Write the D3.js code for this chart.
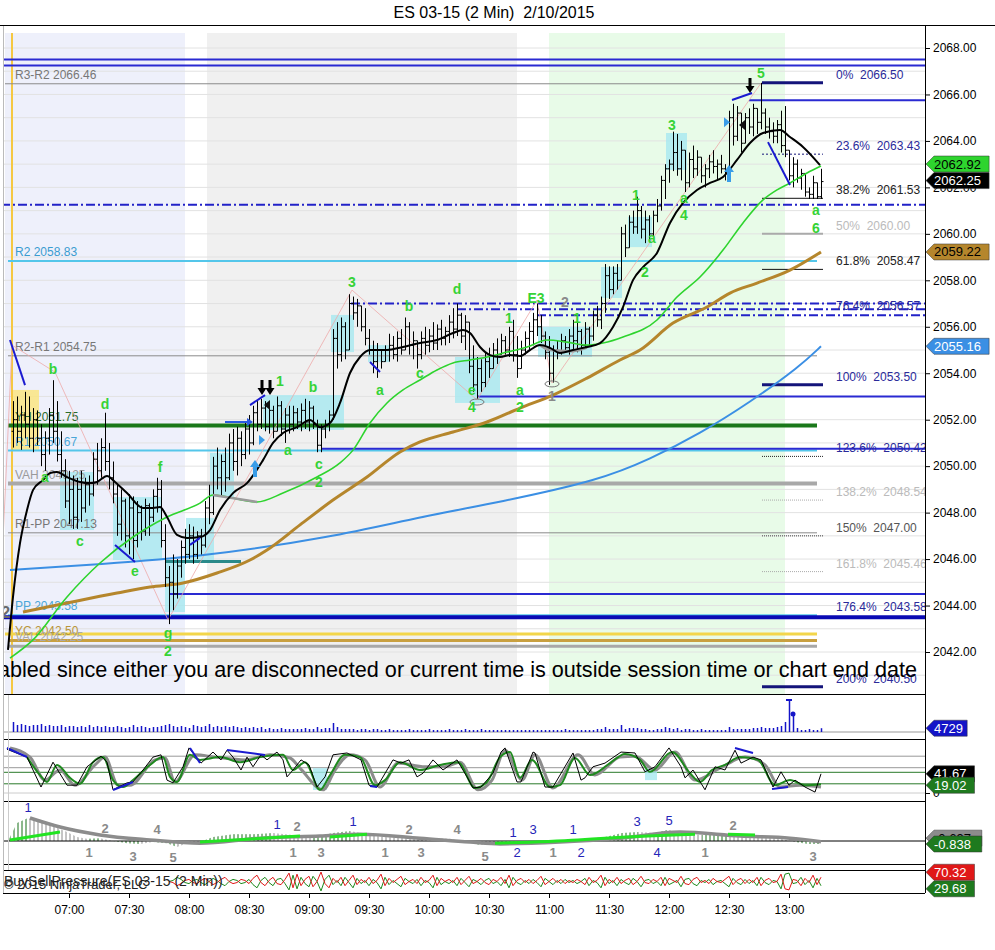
<!DOCTYPE html>
<html><head><meta charset="utf-8">
<script src="https://cdn.jsdelivr.net/npm/d3@7"></script>
<style>
body{margin:0;background:#fff;}
svg{display:block;font-family:"Liberation Sans",Arial,sans-serif;}
.pre{white-space:pre;}
</style>
</head><body><svg id="c" width="995" height="950"></svg>
<script>
// ---------------- DATA ----------------
const TITLE = "ES 03-15 (2 Min)  2/10/2015";
const START = "06:32";
// OHLC bars, 2 minutes each, [open, high, low, close]
const bars = [
[2051.5,2052.8,2050.8,2052.0],[2052.0,2053.0,2051.0,2051.5],[2051.5,2052.6,2050.7,2052.2],[2052.2,2053.2,2051.2,2051.8],[2051.8,2053.0,2050.8,2051.2],
[2051.2,2052.5,2050.6,2052.0],[2052.0,2052.4,2050.9,2051.2],[2051.2,2051.8,2050.0,2050.5],[2050.5,2051.5,2049.8,2051.2],[2051.2,2052.5,2050.5,2052.2],
[2052.2,2053.7,2051.0,2051.5],[2051.5,2052.8,2050.2,2050.5],[2050.5,2051.5,2049.5,2049.8],[2049.8,2050.3,2048.2,2048.5],[2048.5,2049.8,2047.5,2049.0],
[2049.0,2049.6,2047.3,2047.8],[2047.8,2049.5,2047.3,2049.0],[2049.0,2049.8,2047.6,2048.2],[2048.2,2049.5,2048.0,2049.2],[2049.2,2049.6,2048.3,2048.8],
[2048.8,2050.6,2048.7,2050.3],[2050.3,2051.0,2049.2,2049.8],[2049.8,2051.2,2049.5,2050.8],[2050.8,2052.3,2049.8,2050.2],[2050.2,2051.0,2049.0,2049.5],
[2049.5,2050.2,2048.4,2048.8],[2048.8,2049.2,2047.0,2047.5],[2047.5,2049.0,2046.8,2048.5],[2048.5,2048.6,2046.5,2047.0],[2047.0,2048.8,2046.2,2048.2],
[2048.2,2048.7,2046.0,2046.8],[2046.8,2048.5,2046.5,2048.0],[2048.0,2048.3,2046.8,2047.2],[2047.2,2048.6,2047.0,2048.3],[2048.3,2048.4,2047.0,2047.8],
[2047.8,2049.0,2047.6,2048.7],[2048.7,2049.5,2048.0,2049.0],[2049.0,2049.4,2046.5,2046.8],[2046.8,2047.5,2044.8,2045.2],[2045.2,2045.7,2043.2,2045.0],
[2045.0,2046.2,2043.8,2044.5],[2044.5,2046.0,2044.3,2045.7],[2045.7,2046.8,2045.2,2046.5],[2046.5,2047.3,2045.8,2046.2],[2046.2,2047.5,2046.0,2047.0],
[2047.0,2047.4,2045.8,2046.2],[2046.2,2047.2,2046.0,2047.0],[2047.0,2047.3,2046.2,2046.6],[2046.6,2048.5,2046.5,2048.2],[2048.2,2049.2,2047.5,2048.0],
[2048.0,2050.4,2047.9,2050.0],[2050.0,2050.8,2049.0,2049.5],[2049.5,2050.5,2048.7,2050.2],[2050.2,2050.8,2048.9,2049.5],[2049.5,2051.4,2049.4,2051.0],
[2051.0,2051.6,2049.8,2050.2],[2050.2,2051.7,2049.6,2051.2],[2051.2,2051.5,2050.0,2050.5],[2050.5,2051.9,2050.3,2051.6],[2051.6,2052.2,2050.5,2051.0],
[2051.0,2052.6,2050.9,2052.3],[2052.3,2052.8,2051.5,2051.8],[2051.8,2052.9,2051.6,2052.5],[2052.5,2052.8,2051.5,2051.7],[2051.7,2052.7,2051.4,2052.4],
[2052.4,2052.6,2051.2,2051.5],[2051.5,2053.0,2051.5,2052.6],[2052.6,2052.8,2051.3,2051.6],[2051.6,2052.5,2051.0,2052.2],[2052.2,2052.6,2051.4,2051.8],
[2051.8,2052.6,2051.5,2052.3],[2052.3,2052.5,2051.6,2051.9],[2051.9,2052.7,2051.5,2052.4],[2052.4,2052.9,2051.6,2051.9],[2051.9,2052.8,2051.5,2052.5],
[2052.5,2052.6,2051.6,2051.8],[2051.8,2052.0,2050.6,2050.9],[2050.9,2051.8,2050.6,2051.6],[2051.6,2052.0,2051.2,2051.8],[2051.8,2052.4,2051.5,2052.2],
[2052.2,2055.9,2052.0,2055.5],[2055.5,2056.2,2054.2,2054.8],[2054.8,2056.4,2054.5,2056.0],[2056.0,2056.2,2054.6,2055.0],[2055.0,2057.4,2055.0,2057.0],
[2057.0,2057.3,2056.3,2056.6],[2056.6,2057.2,2056.0,2056.9],[2056.9,2056.9,2055.8,2056.0],[2056.0,2056.8,2055.2,2055.5],[2055.5,2055.9,2054.8,2055.0],
[2055.0,2055.4,2054.0,2054.5],[2054.5,2055.3,2053.8,2055.0],[2055.0,2055.0,2054.2,2054.5],[2054.5,2055.2,2054.5,2055.0],[2055.0,2055.7,2054.5,2055.2],
[2055.2,2055.6,2054.6,2054.8],[2054.8,2055.8,2054.5,2055.5],[2055.5,2055.9,2054.8,2055.0],[2055.0,2056.4,2055.0,2056.0],[2056.0,2056.2,2054.8,2055.2],
[2055.2,2055.8,2054.6,2055.4],[2055.4,2055.4,2054.2,2054.8],[2054.8,2055.8,2054.6,2055.5],[2055.5,2056.0,2054.8,2055.2],[2055.2,2055.9,2054.9,2055.6],
[2055.6,2056.2,2055.0,2055.3],[2055.3,2056.1,2055.0,2055.9],[2055.9,2056.3,2055.2,2055.5],[2055.5,2056.0,2055.2,2055.8],[2055.8,2056.5,2055.3,2056.2],
[2056.2,2056.8,2055.5,2055.9],[2055.9,2057.0,2055.6,2056.5],[2056.5,2056.6,2055.3,2055.6],[2055.6,2056.5,2055.0,2056.2],[2056.2,2056.2,2054.0,2054.3],
[2054.3,2055.2,2053.2,2053.5],[2053.5,2054.7,2052.9,2054.2],[2054.2,2054.6,2053.2,2053.6],[2053.6,2054.9,2053.4,2054.5],[2054.5,2055.1,2053.8,2054.2],
[2054.2,2055.3,2054.2,2055.0],[2055.0,2055.5,2054.4,2054.8],[2054.8,2055.7,2054.8,2055.4],[2055.4,2055.6,2054.8,2055.0],[2055.0,2056.0,2054.7,2055.8],
[2055.8,2056.3,2054.5,2054.8],[2054.8,2055.6,2053.8,2054.2],[2054.2,2055.4,2054.2,2055.0],[2055.0,2055.8,2054.8,2055.5],[2055.5,2056.2,2055.0,2055.8],
[2055.8,2056.6,2055.2,2056.3],[2056.3,2057.0,2055.6,2056.0],[2056.0,2056.5,2055.3,2055.6],[2055.6,2055.8,2054.6,2054.9],[2054.9,2055.6,2053.5,2054.0],
[2054.0,2055.2,2053.6,2055.0],[2055.0,2055.4,2054.6,2054.9],[2054.9,2055.7,2054.8,2055.4],[2055.4,2055.6,2054.9,2055.1],[2055.1,2055.9,2054.8,2055.6],
[2055.6,2056.3,2055.0,2055.4],[2055.4,2056.2,2054.9,2055.8],[2055.8,2055.9,2054.8,2055.2],[2055.2,2056.2,2055.1,2055.9],[2055.9,2056.0,2055.2,2055.6],
[2055.6,2056.7,2055.4,2056.5],[2056.5,2056.9,2056.0,2056.3],[2056.3,2057.3,2055.9,2057.0],[2057.0,2058.7,2056.6,2058.2],[2058.2,2058.6,2057.2,2057.6],
[2057.6,2058.6,2057.4,2058.3],[2058.3,2058.7,2057.6,2058.0],[2058.0,2060.3,2058.0,2060.0],[2060.0,2060.4,2059.0,2059.4],[2059.4,2060.8,2059.4,2060.5],
[2060.5,2061.0,2060.0,2060.3],[2060.3,2061.6,2060.0,2061.0],[2061.0,2061.2,2059.8,2060.2],[2060.2,2061.0,2059.6,2060.6],[2060.6,2060.8,2059.7,2060.0],
[2060.0,2061.0,2059.9,2060.8],[2060.8,2061.5,2060.5,2061.2],[2061.2,2062.5,2061.0,2062.3],[2062.3,2063.0,2061.5,2062.8],[2062.8,2063.2,2062.2,2063.0],
[2063.0,2064.4,2062.7,2063.5],[2063.5,2064.3,2062.5,2062.8],[2062.8,2064.0,2062.3,2063.6],[2063.6,2063.6,2061.8,2062.2],[2062.2,2063.5,2062.0,2063.2],
[2063.2,2063.8,2062.4,2062.8],[2062.8,2063.6,2062.5,2063.3],[2063.3,2063.3,2062.2,2062.5],[2062.5,2063.0,2062.0,2062.8],[2062.8,2063.4,2062.4,2063.1],
[2063.1,2063.6,2062.6,2062.9],[2062.9,2063.2,2062.3,2063.0],[2063.0,2063.4,2062.6,2062.8],[2062.8,2063.0,2062.3,2062.7],[2062.7,2065.3,2062.6,2065.0],
[2065.0,2065.6,2063.8,2064.2],[2064.2,2065.5,2064.0,2065.2],[2065.2,2065.2,2063.5,2063.9],[2063.9,2065.2,2063.9,2065.0],[2065.0,2065.4,2064.3,2064.6],
[2064.6,2065.6,2064.2,2065.4],[2065.4,2065.4,2064.3,2064.8],[2064.8,2066.5,2064.5,2065.2],[2065.2,2065.4,2064.3,2064.6],[2064.6,2065.0,2064.1,2064.4],
[2064.4,2064.8,2063.9,2064.2],[2064.2,2064.9,2063.9,2064.7],[2064.7,2065.3,2063.5,2063.8],[2063.8,2065.5,2063.3,2063.6],[2063.6,2063.6,2062.3,2062.5],
[2062.5,2063.3,2062.0,2063.0],[2063.0,2063.2,2062.2,2062.4],[2062.4,2062.8,2061.9,2062.6],[2062.6,2062.6,2061.6,2061.8],[2061.8,2062.0,2061.5,2061.7],
[2061.7,2062.5,2061.5,2062.2],[2062.2,2062.2,2061.5,2061.6],[2061.6,2062.8,2061.5,2062.25]
];
const volumes = [12500,
8750,10000,8750,7500,8750,8750,10000,7500,8750,7500,
7500,8750,6250,7500,7500,6250,7500,6250,8750,6250,
7500,6250,7500,6250,6250,7500,6250,5000,6250,8750,
6250,7500,6250,5000,6250,6250,7500,8750,10000,7500,
6250,7500,6250,5000,8750,7500,6250,7500,10000,6250,
7500,6250,7500,6250,7500,6250,5000,6250,5000,6250,
5000,6250,3750,5000,3750,3750,5000,3750,3750,3750,
3750,3750,5000,3750,3750,6250,3750,5000,5000,11250,
6250,3750,3750,3750,3750,2500,3750,3750,2500,3750,
3750,2500,2500,3750,2500,2500,2500,2500,3750,2500,
2500,2500,2500,3750,2500,2500,2500,2500,3750,2500,
2500,2500,3750,2500,2500,2500,3750,2500,2500,2500,
2500,2500,2500,2500,2500,2500,2500,2500,2500,2500,
2500,2500,2500,2500,2500,2500,2500,3750,2500,2500,
2500,2500,2500,2500,2500,3750,3750,6250,3750,3750,
3750,8750,3750,5000,5000,5000,3750,3750,2500,2500,
3750,3750,6250,5000,3750,5000,2500,3750,3750,2500,
2500,3750,2500,2500,2500,2500,2500,2500,6250,3750,
3750,3750,3750,3750,5000,5000,6250,5000,5000,5000,
6250,7500,12500,40000,22500,5000,2500,2500,3750,2500,2500,4729];
const timeTicks = ["07:00","07:30","08:00","08:30","09:00","09:30","10:00","10:30","11:00","11:30","12:00","12:30","13:00"];
const priceTicks = [2042,2044,2046,2048,2050,2052,2054,2056,2058,2060,2062,2064,2066,2068];
const sessions = [["06:28","07:58"],["08:09","10:44"],["11:00","12:58"]];

// indicator lines on price: [bar index, price]
const emaFast = [[-1.25,2042.09],[0,2044.37],[1.75,2046.69],[3.5,2048.11],[5,2048.97],[7.5,2049.40],[9.25,2049.70],[11,2049.75],[13.5,2049.53],[16.75,2049.32],[19.25,2049.27],[21,2049.32],[23.5,2049.58],[25.5,2049.32],[28.5,2048.84],[32.5,2048.20],[35,2048.20],[36.75,2048.24],[38.5,2047.81],[41,2047.04],[43.5,2046.91],[46.75,2046.95],[49.25,2047.25],[51.75,2048.11],[55,2048.84],[58.5,2049.27],[62.5,2050.26],[65,2051.00],[67.5,2051.43],[71,2051.68],[74.25,2051.99],[76.75,2051.68],[79.25,2051.86],[81.75,2052.72],[84.25,2054.01],[86.75,2054.70],[89.25,2055.00],[93.5,2055.00],[97.5,2055.13],[101.75,2055.30],[106,2055.43],[110,2055.73],[112.5,2055.86],[114.25,2055.73],[116.75,2055.13],[119.25,2054.78],[121.75,2054.70],[124.25,2054.78],[126.75,2054.74],[129.25,2055.00],[131.75,2055.21],[134.25,2055.09],[136.75,2054.87],[140,2055.00],[143.5,2055.13],[146.75,2055.30],[150,2055.99],[152.5,2056.85],[155,2058.01],[157.5,2058.57],[161,2059.18],[164.25,2060.47],[167.5,2061.33],[171,2061.89],[174.25,2062.19],[177.5,2062.45],[181,2063.18],[184.25,2063.91],[187.5,2064.34],[191.75,2064.47],[194.25,2064.17],[197.5,2063.74],[201.75,2062.96]];
const emaMid = [[-0.75,2041.74],[5,2042.52],[13.5,2044.37],[21.75,2045.83],[30,2046.95],[38.5,2047.81],[46.75,2048.41],[50,2048.76],[61,2048.46],[67.5,2048.84],[76,2049.53],[81.75,2050.14],[85,2050.69],[89.25,2051.86],[93.5,2052.72],[97.5,2053.28],[101.75,2053.71],[106,2054.14],[110,2054.44],[114.25,2054.57],[118.5,2054.70],[123.5,2054.91],[128.5,2055.13],[133.5,2055.43],[138.5,2055.34],[143.5,2055.21],[147.5,2055.30],[152.5,2055.56],[161,2056.29],[166,2057.28],[171.75,2058.14],[177.5,2059.30],[182.5,2060.47],[187.5,2061.46],[191,2061.89],[194.25,2062.19],[198.5,2062.62],[202,2062.92]];
const smaSlow = [[2.5,2043.72],[13.5,2044.11],[26,2044.54],[34.25,2044.80],[42.5,2044.97],[51,2045.40],[59.25,2045.96],[63.5,2046.39],[71.75,2047.47],[80,2048.54],[88.5,2049.53],[96.75,2050.61],[101.75,2051.04],[110,2051.47],[118.5,2051.90],[126.75,2052.50],[135,2053.06],[143.5,2053.79],[151.75,2054.57],[156.75,2055.00],[165,2056.16],[173.5,2056.85],[179.25,2057.45],[186,2057.88],[194.25,2058.44],[202,2059.22]];
const smaLong = [[-0.75,2045.53],[21.75,2045.78],[46.75,2046.09],[80,2046.95],[101.75,2047.82],[121.75,2048.45],[146.75,2049.40],[159.25,2050.30],[171.75,2051.40],[184.25,2052.75],[196.75,2054.30],[202,2055.16]];
const grayOverlay = [[[50,2048.76],[61,2048.46]],[[131.75,2055.21],[134.25,2055.0],[140,2054.95],[143.5,2055.1]]];

// levels
const pivots = [["R3-R2",2066.46],["R2",2058.83],["R2-R1",2054.75],["YH",2051.75],["R1",2050.67],["VAH",2049.25],["R1-PP",2047.13],["PP",2043.58],["YC",2042.50],["VAL",2042.25]];
const extraLevel = 2042.77;
const blueLevels = [[2067.50,-3],[2067.25,-3],[2065.75,184],[2053.00,116],[2050.75,77],[2044.50,39],[2043.50,-3]];
const dashLevels = [[2061.25,-3],[2057.00,84.5],[2056.75,111],[2056.50,131]];
const tealLevel = [2045.9, 38, 57];
const fibs = [[0,2066.50],[23.6,2063.43],[38.2,2061.53],[50,2060.00],[61.8,2058.47],[76.4,2056.57],[100,2053.50],[123.6,2050.42],[138.2,2048.54],[150,2047.00],[161.8,2045.46],[176.4,2043.58],[200,2040.50]];
const priceTags = [["2062.92",2062.92,"g"],["2062.25",2062.25,"k"],["2059.22",2059.22,"b"],["2055.16",2055.16,"l"]];

// boxes [i1,i2,p1,p2]
const cyanBoxes = [[12.25,19.75,2049.75,2047.25],[25.5,36.75,2048.67,2045.96],[38.5,42.5,2045.83,2043.72],[43.75,49.75,2047.77,2045.96],[49.75,54.75,2050.57,2048.67],[63,82.25,2053.06,2051.56],[80,84.75,2056.51,2054.91],[89.25,93.75,2055.21,2054.48],[111,121.25,2054.70,2052.72],[131.75,144.25,2056.0,2054.7],[147.5,151.75,2058.57,2057.24],[154.25,159.25,2060.73,2059.43],[163.75,168,2064.34,2062.75]];
const yellowBox = [0,6,2053.28,2050.70];

// wave labels [text, bar index, price]
const waveLabels = [["b",10,2054.18],["a",8,2049.53],["c",16.75,2046.78],["d",23,2052.67],["e",30.5,2045.49],["f",36.75,2049.96],["g",38.75,2042.82],["2",38.75,2042.04],
["1",66.75,2053.67],["a",68.75,2050.7],["b",75,2053.41],["c",76.5,2050.09],["2",76.5,2049.32],["3",84.75,2057.93],["a",91.75,2053.28],["b",99,2056.89],["c",101.75,2054.01],
["d",111,2057.63],["e",114.75,2053.28],["4",114.75,2052.55],["1",124,2056.38],["a",126.75,2053.28],["2",126.75,2052.55],["E3",130.75,2057.24],["1",141,2056.38],
["1",155.75,2061.67],["a",159.75,2059.82],["2",158,2058.36],["3",164.75,2064.69],["a",167.75,2061.54],["4",167.75,2060.81],["5",187,2066.92],["a",200.75,2061.03],["6",200.75,2060.25]];
const grayLabels = [["2",138,2057.07],["1",134.75,2053.02],["2",-1.8,2043.72]];
const zigzag = [[-2.5,2046.82],[-0.25,2055.21],[10.5,2054.05],[38.75,2043.38],[84.75,2057.58],[116,2052.85],[131,2057.15],[134.75,2053.58],[187,2066.49]];
const drawLines = [[[-0.75,2055.43],[3,2053.49]],[[25.5,2046.61],[30.5,2045.87]],[[44.25,2046.61],[46.75,2046.91]],[[59.25,2052.63],[63,2053.06]],[[89.25,2054.48],[91.75,2054.05]],[[179.75,2065.76],[184.75,2066.06]],[[188.75,2063.95],[194.25,2062.1]]];
const ovals = [[116,2052.76],[134.75,2053.54]];
const downArrows = [[62.25,2053.06],[64.25,2053.06],[184.25,2066.06]];
const upArrows = [[60.5,2050.26],[179,2062.96]];
const message = "abled since either you are disconnected or current time is outside session time or chart end date";

// stochastics [bar index, value]
const stochLevels = [80,55,45,20,0];
const stochK = [[-1.5,95],[3.5,78],[7,13],[10,67],[13.5,17],[16,17],[18.5,57],[22,80],[23.5,67],[25,7],[28.5,22],[30,24],[32.5,50],[35,78],[37,83],[38.5,28],[40,22],[42.5,57],[44,98],[47,65],[50,89],[52,72],[53.5,93],[55,78],[57,50],[58.5,78],[60,57],[62,83],[63.5,72],[66,89],[67.5,72],[68.5,35],[70,50],[72,72],[74,61],[76,13],[78,35],[80,83],[83.5,87],[87,72],[89,17],[91,13],[95,72],[97,65],[99,72],[101,35],[102.5,43],[105,72],[107.5,50],[111,72],[113.5,35],[115,11],[117,13],[120,43],[122,89],[123,98],[126,24],[127,24],[130,89],[130.5,87],[133,13],[135,13],[140,87],[142,28],[143,33],[145,57],[148,65],[152,89],[155.5,87],[158,46],[160.5,57],[164,98],[167,57],[168,33],[170,50],[173,7],[175.5,57],[178,50],[180.5,93],[182,65],[185,78],[187,72],[190,13],[192,46],[194,17],[195.5,28],[198,13],[200.5,2],[202,41.67]];
const stochD = [[3.5,78],[6.75,39],[8.5,24],[11,61],[14.25,33],[16.75,20],[20,67],[22.5,78],[25,28],[27.5,13],[30,28],[34.25,61],[37.5,78],[39.25,35],[41,24],[44.25,83],[46.75,72],[51.75,78],[56.75,67],[61.75,78],[67.5,83],[70,50],[73,67],[76.75,7],[79.25,39],[83,83],[86.75,78],[90.5,17],[93,28],[96.75,67],[101.75,50],[106.75,61],[111.25,67],[115.5,11],[118.5,24],[121.75,78],[124.25,89],[126.75,33],[129.75,72],[134.25,13],[136.75,17],[140.5,76],[144.25,39],[149.25,65],[153,85],[156.75,72],[159.25,46],[164.75,89],[169.25,43],[171.75,24],[174.75,50],[178,61],[181.75,78],[186.25,72],[190.5,17],[194.25,28],[198,17],[202,19.02]];
const stochS = [[-0.75,98],[4.25,78],[8,28],[11.75,50],[15.5,17],[20.5,61],[23,78],[26.25,17],[29.25,17],[35.5,72],[38,76],[40.5,24],[45.5,83],[50.5,78],[58,72],[64.25,83],[69.25,76],[71.75,54],[77.5,7],[80.5,50],[84.25,83],[88,72],[91.75,13],[96.25,65],[103,57],[108,57],[111.75,67],[116.25,7],[119.75,28],[123,93],[127.25,28],[130.5,83],[135,11],[141.25,83],[145.5,39],[151.75,78],[155.5,80],[160.5,50],[165.5,89],[170.5,28],[176.75,54],[183,78],[188,61],[191.75,13],[196.75,17],[202,13]];
const stochDiv = [[[-1.5,97.8],[3.5,78.3]],[[25,6.5],[30,23.9]],[[44.25,97.8],[46.75,65.2]],[[53.5,93.5],[63,82.6]],[[89.25,15.2],[91,13]],[[180.5,97.8],[185,87]],[[189.75,8.7],[193.75,13]]];
const stochBoxes = [[75,78.5,54,6.5],[158,161,54,28]];

// oscillator [bar index, value]
const oscHist = [[-1.25,0],[1,5.0],[3.75,6.4],[6.75,5.3],[10,4.2],[13.5,2.5],[16,1.1],[18.5,0.6],[21.75,0.8],[25,0],[28.5,-0.6],[31.75,-0.8],[35,-0.3],[38.5,-0.6],[41,-1.7],[43.5,-0.6],[46.75,-0.3],[50,1.1],[55,1.9],[60,1.9],[65,2.2],[70,1.7],[75,1.1],[80,2.2],[84.25,2.8],[88.5,1.9],[92.5,1.1],[101,0.8],[109.25,0.6],[113.5,-0.3],[116.75,-1.1],[121.75,-0.6],[125.5,-0.3],[133,0],[141.25,0.3],[148,1.1],[152.25,2.2],[156.25,2.5],[160.5,2.2],[163.75,3.1],[167.25,2.2],[172.25,1.7],[178.75,1.7],[185.5,1.4],[191.25,0.8],[195.5,-0.3],[198.75,-0.8],[202,-0.84]];
const oscSignal = [[4.25,6.4],[11.75,3.9],[21.75,1.7],[34.25,0.3],[46.75,-0.6],[61.75,0.8],[76.75,1.4],[86.75,1.9],[101.75,0.8],[114.25,-0.3],[121.75,-0.8],[136.75,-0.3],[151.75,0.8],[166.75,2.5],[181.75,1.4],[194.25,0.8],[202,-0.2]];
const oscGreen = [[[-0.75,0.3],[11.75,2.5]],[[46.75,-0.3],[71.75,1.4]],[[79.25,1.1],[88.5,1.9]],[[120.5,-0.6],[141.25,0.3],[148,0.8],[170.5,1.9]],[[178.75,1.9],[185.5,1.7]]];
const oscLabels = [["1",3.75,9.2,"b"],["2",23,3.6,"g"],["1",19,-3.3,"g"],["3",30,-4.4,"g"],["4",36,3.1,"g"],["5",40,-4.7,"g"],["1",66,4.7,"b"],["2",71,3.9,"g"],["1",70,-3.3,"g"],["3",77,-3.3,"g"],["1",85,5.3,"b"],["1",93,-3.3,"g"],["2",99,3.3,"g"],["3",102,-3.3,"g"],["4",111,3.3,"g"],["5",118,-4.4,"g"],["1",125,2.5,"b"],["2",126,-3.3,"b"],["3",130,3.1,"b"],["1",135,-3.3,"g"],["1",140,3.1,"b"],["2",142,-3.3,"b"],["3",156,5.3,"b"],["5",164,5.8,"b"],["4",161,-3.3,"b"],["1",173,-3.3,"g"],["2",180,4.4,"g"],["3",200,-4.4,"g"]];

// Buy / sell pressure, starting at bar 39
const bspStart = 39;
const bspSell = [50,45,30,40,55,60,45,40,55,65, 50,35,45,60,70,50,40,45,60,55, 40,65,80,45,30,55,70,40,35,60, 90,20,85,30,60,75,25,50,95,40,
20,65,45,70,30,55,80,35,60,45, 70,40,55,85,30,65,45,60,75,35, 50,60,40,70,45,55,80,30,65,50, 60,45,70,35,55,75,40,50,65,45,
35,60,50,70,40,80,30,55,65,45, 60,40,55,75,35,50,65,45,60,40, 55,45,60,50,35,70,45,55,80,30, 60,45,70,40,55,65,35,50,75,45,
40,60,50,70,30,65,55,45,75,40, 35,60,70,45,55,40,65,50,45,60, 75,35,55,65,40,60,45,70,30,55, 65,45,50,85,15,10,60,55,30,65, 45,80,35,70.32];
const bspBuy = [50,55,70,60,45,40,55,60,45,35, 50,65,55,40,30,50,60,55,40,45, 60,35,20,55,70,45,30,60,65,40, 10,80,15,70,40,25,75,50,5,60,
80,35,55,30,70,45,20,65,40,55, 30,60,45,15,70,35,55,40,25,65, 50,40,60,30,55,45,20,70,35,50, 40,55,30,65,45,25,60,50,35,55,
65,40,50,30,60,20,70,45,35,55, 40,60,45,25,65,50,35,55,40,60, 45,55,40,50,65,30,55,45,20,70, 40,55,30,60,45,35,65,50,25,55,
60,40,50,30,70,35,45,55,25,60, 65,40,30,55,45,60,35,50,55,40, 25,65,45,35,60,40,55,30,70,45, 35,55,50,15,85,90,40,45,70,35, 55,20,65,29.68];

// ---------------- DRAW ----------------
const svg = d3.select("#c");
const parse = d3.timeParse("%H:%M");
const t0 = parse(START);
const tAt = i => new Date(t0.getTime() + i * 120000);
const N = bars.length;
const x = d3.scaleTime().domain([tAt(0), tAt(N - 1)]).range([13, 821]);
const xi = i => x(tAt(i));
const y = d3.scaleLinear().domain([2042, 2068]).range([652, 48]);
const yVol = d3.scaleLinear().domain([0, 40000]).range([732, 700]);
const ySt = d3.scaleLinear().domain([0, 100]).range([793, 747]);
const yOsc = d3.scaleLinear().domain([-6.4, 10.3]).range([864, 804]);
const yBsp = d3.scaleLinear().domain([0, 100]).range([892, 871]);
const AX = 925, L = 3, TOP = 26;

const defs = svg.append("defs");
function clip(id, y0, y1) {
  defs.append("clipPath").attr("id", id).append("rect").attr("x", L).attr("y", y0).attr("width", AX - L).attr("height", y1 - y0);
}
clip("cm", TOP, 694); clip("cv", 695, 739); clip("cs", 740, 801); clip("co", 802, 864); clip("cb", 871, 893);
function hatch(id, col) {
  defs.append("pattern").attr("id", id).attr("patternUnits", "userSpaceOnUse").attr("width", 4).attr("height", 8).attr("x", 1)
    .append("line").attr("x1", 1).attr("x2", 1).attr("y1", 0).attr("y2", 8).attr("stroke", col).attr("stroke-width", 1);
}
hatch("hg", "#157015"); hatch("hk", "#8a8a8a");

svg.append("rect").attr("width", 995).attr("height", 950).attr("fill", "#fff");
svg.append("text").attr("x", 494).attr("y", 18).attr("text-anchor", "middle").attr("font-size", 16).attr("class", "pre").text(TITLE);

// ---- main panel
const M = svg.append("g").attr("clip-path", "url(#cm)");
const sessCol = ["#eef0fb", "#f0f0f0", "#e8fbe8"];
sessions.forEach((s, k) => {
  const a = x(parse(s[0])), b = x(parse(s[1]));
  M.append("rect").attr("x", a).attr("y", 33).attr("width", b - a).attr("height", 661).attr("fill", sessCol[k]);
});
// grid each point
d3.range(2041, 2069).forEach(p => M.append("line").attr("x1", L).attr("x2", AX).attr("y1", y(p)).attr("y2", y(p)).attr("stroke", "#e2e2e2").attr("stroke-width", 1));

const box = (g, b, fill, op) => g.append("rect").attr("x", xi(b[0]) - 2).attr("y", y(b[2])).attr("width", xi(b[1]) - xi(b[0]) + 4).attr("height", y(b[3]) - y(b[2])).attr("fill", fill).attr("opacity", op);
cyanBoxes.forEach(b => box(M, b, "#a6e9f0", 0.8));
box(M, yellowBox, "#fbe57a", 0.8);

// session start vertical
M.append("line").attr("x1", 12).attr("x2", 12).attr("y1", 33).attr("y2", 694).attr("stroke", "#f5c842").attr("stroke-width", 2);

const pivStyle = {"R3-R2":["#8a8a8a",1,"#777"],"R2":["#54c6ea",2,"#3a9cd0"],"R2-R1":["#8a8a8a",1,"#777"],"YH":["#1a781a",4,"#2b6b2b"],"R1":["#54c6ea",2,"#4aa6d8"],"VAH":["#a8a8a8",4,"#9a9a9a"],"R1-PP":["#8a8a8a",1,"#777"],"PP":["#54c6ea",2,"#4aa6d8"],"YC":["#c9a040",3,"#b8953a"],"VAL":["#a8a8a8",3,"#aaa"]};
pivots.forEach(([n, v]) => {
  const s = pivStyle[n];
  M.append("line").attr("x1", n === "R3-R2" ? 5 : 8).attr("x2", n === "R3-R2" ? 762 : 817).attr("y1", y(v)).attr("y2", y(v)).attr("stroke", s[0]).attr("stroke-width", s[1]);
});
M.append("line").attr("x1", 5).attr("x2", 817).attr("y1", y(extraLevel)).attr("y2", y(extraLevel)).attr("stroke", "#f3d64a").attr("stroke-width", 3);
blueLevels.forEach(([v, i0]) => {
  M.append("line").attr("x1", xi(i0)).attr("x2", AX).attr("y1", y(v)).attr("y2", y(v))
    .attr("stroke", v === 2043.5 ? "#0a0ab4" : "#2a2ad2").attr("stroke-width", v === 2043.5 ? 4 : 2);
});
dashLevels.forEach(([v, i0]) => M.append("line").attr("x1", xi(i0)).attr("x2", AX).attr("y1", y(v)).attr("y2", y(v))
  .attr("stroke", "#2222c8").attr("stroke-width", 2).attr("stroke-dasharray", "9,3,2,3"));
M.append("line").attr("x1", xi(tealLevel[1])).attr("x2", xi(tealLevel[2])).attr("y1", y(tealLevel[0])).attr("y2", y(tealLevel[0])).attr("stroke", "#2a8a8a").attr("stroke-width", 3);

// pivot labels
pivots.forEach(([n, v]) => {
  const s = pivStyle[n];
  M.append("text").attr("x", 15).attr("y", y(v) - 5).attr("font-size", 12).attr("fill", s[2]).text(n + " " + v.toFixed(2));
});

// pink zigzag
const lineP = d3.line().x(d => xi(d[0])).y(d => y(d[1]));
M.append("path").attr("d", lineP(zigzag)).attr("fill", "none").attr("stroke", "#eeaaaa").attr("stroke-width", 0.8);

// fib segments
const fibStyle = {0:["#14147a",3,null,"#2a2a9a"],23.6:["#14147a",1,"2,2","#2a2a9a"],38.2:["#111",1,null,"#222"],50:["#aaa",2,null,"#bbb"],61.8:["#111",1,null,"#222"],76.4:[null,0,null,"#2a2a9a"],100:["#14147a",3,null,"#2a2a9a"],123.6:["#222",1,"1,1","#2a2a9a"],138.2:["#aaa",1,"1,1","#bbb"],150:["#444",1,"1,1","#555"],161.8:["#aaa",1,"1,1","#bbb"],176.4:[null,0,null,"#2a2a9a"],200:["#14147a",3,null,"#2a2a9a"]};
fibs.forEach(([pc, v]) => {
  const s = fibStyle[pc];
  if (s[0]) {
    const ln = M.append("line").attr("x1", 762).attr("x2", 823).attr("y1", y(v)).attr("y2", y(v)).attr("stroke", s[0]).attr("stroke-width", s[1]);
    if (s[2]) ln.attr("stroke-dasharray", s[2]);
  }
});

// indicators
M.append("path").attr("d", d3.line().x(d => xi(d[0])).y(d => y(d[1])).curve(d3.curveBasis)(smaLong)).attr("fill", "none").attr("stroke", "#3b8fe4").attr("stroke-width", 2);
M.append("path").attr("d", lineP.curve(d3.curveMonotoneX)(smaSlow)).attr("fill", "none").attr("stroke", "#b5862c").attr("stroke-width", 3);

// OHLC bars
const B = M.append("g").attr("stroke", "#000").attr("stroke-width", 1);
bars.forEach((b, i) => {
  const cx = Math.round(xi(i)) + 0.5;
  B.append("line").attr("x1", cx).attr("x2", cx).attr("y1", y(b[1])).attr("y2", y(b[2]));
  B.append("line").attr("x1", cx - 2).attr("x2", cx).attr("y1", y(b[0])).attr("y2", y(b[0]));
  B.append("line").attr("x1", cx).attr("x2", cx + 2).attr("y1", y(b[3])).attr("y2", y(b[3]));
});
M.append("path").attr("d", lineP.curve(d3.curveMonotoneX)(emaMid)).attr("fill", "none").attr("stroke", "#2ed42e").attr("stroke-width", 1.6);
grayOverlay.forEach(s => M.append("path").attr("d", lineP.curve(d3.curveMonotoneX)(s)).attr("fill", "none").attr("stroke", "#9a9a9a").attr("stroke-width", 2.5));
M.append("path").attr("d", lineP.curve(d3.curveMonotoneX)(emaFast)).attr("fill", "none").attr("stroke", "#000").attr("stroke-width", 2);

// drawings
drawLines.forEach(s => M.append("path").attr("d", d3.line().x(d => xi(d[0])).y(d => y(d[1]))(s)).attr("stroke", "#1a1ad0").attr("stroke-width", 2).attr("fill", "none"));
M.append("line").attr("x1", xi(53)).attr("x2", xi(58.5)).attr("y1", y(2051.9)).attr("y2", y(2051.9)).attr("stroke", "#2a5ae0").attr("stroke-width", 2);
M.append("path").attr("d", `M${xi(58.5)},${y(2051.9)-4}L${xi(60)},${y(2051.9)}L${xi(58.5)},${y(2051.9)+4}Z`).attr("fill", "#2a5ae0");
ovals.forEach(o => M.append("ellipse").attr("cx", xi(o[0])).attr("cy", y(o[1])).attr("rx", 7).attr("ry", 3).attr("fill", "none").attr("stroke", "#777").attr("stroke-width", 1));
downArrows.forEach(a => {
  const cx = xi(a[0]), by = y(a[1]);
  M.append("path").attr("d", `M${cx-1.5},${by-15}h3v8h3l-4.5,7l-4.5,-7h3z`).attr("fill", "#000");
});
upArrows.forEach(a => {
  const cx = xi(a[0]), ty = y(a[1]);
  M.append("path").attr("d", `M${cx},${ty}l5,7h-3v10h-4v-10h-3z`).attr("fill", "#3a9de8");
});
[[178.5,2064.8],[62.25,2051.13]].forEach(a => M.append("path").attr("d", `M${xi(a[0])-3},${y(a[1])-5}l6,5l-6,5z`).attr("fill", "#3a9de8"));
[[63.5,2052.63],[182.25,2064.69]].forEach(a => M.append("path").attr("d", `M${xi(a[0])+3},${y(a[1])-5}l-6,5l6,5z`).attr("fill", "#111"));

// fib labels
fibs.forEach(([pc, v]) => {
  M.append("text").attr("class", "pre").attr("x", 836).attr("y", y(v) - 4).attr("font-size", 12).attr("fill", fibStyle[pc][3])
    .text(pc + "%  " + v.toFixed(2));
});
// wave labels
waveLabels.forEach(([t, i, p]) => M.append("text").attr("x", xi(i)).attr("y", y(p)).attr("text-anchor", "middle").attr("dominant-baseline", "central")
  .attr("font-size", 14).attr("font-weight", "bold").attr("fill", "#36d336").text(t));
grayLabels.forEach(([t, i, p], k) => M.append("text").attr("x", xi(i)).attr("y", y(p)).attr("text-anchor", "middle").attr("dominant-baseline", "central")
  .attr("font-size", k === 2 ? 16 : 14).attr("font-weight", "bold").attr("fill", k === 2 ? "#6a6a6a" : "#8a8a8a").text(t));
// message
M.append("text").attr("x", 917).attr("y", 677).attr("text-anchor", "end").attr("font-size", 21.5)
  .attr("textLength", 919).attr("lengthAdjust", "spacingAndGlyphs").attr("fill", "#000").text(message);

// ---- volume panel
const V = svg.append("g").attr("clip-path", "url(#cv)");
V.append("line").attr("x1", L).attr("x2", AX).attr("y1", yVol(0)).attr("y2", yVol(0)).attr("stroke", "#999");
volumes.forEach((v, i) => V.append("line").attr("x1", Math.round(xi(i)) + 0.5).attr("x2", Math.round(xi(i)) + 0.5).attr("y1", yVol(0)).attr("y2", yVol(v)).attr("stroke", "#1414c8").attr("stroke-width", 1.5));
V.append("circle").attr("cx", xi(195)).attr("cy", yVol(volumes[195])).attr("r", 2.5).attr("fill", "#1414c8");
V.append("rect").attr("x", xi(194) - 3).attr("y", yVol(volumes[194]) - 1).attr("width", 6).attr("height", 2).attr("fill", "#1414c8");

// ---- stochastics panel
const S = svg.append("g").attr("clip-path", "url(#cs)");
const stCol = ["#999", "#999", "#2a7a2a", "#2a7a2a", "#ccc"];
stochLevels.forEach((v, k) => S.append("line").attr("x1", L).attr("x2", AX).attr("y1", ySt(v)).attr("y2", ySt(v)).attr("stroke", stCol[k]).attr("stroke-width", 1));
stochBoxes.forEach(b => S.append("rect").attr("x", xi(b[0])).attr("y", ySt(b[2])).attr("width", xi(b[1]) - xi(b[0])).attr("height", ySt(b[3]) - ySt(b[2])).attr("fill", "#a6e9f0").attr("opacity", 0.8));
const lineS = d3.line().x(d => xi(d[0])).y(d => ySt(d[1]));
S.append("path").attr("d", lineS.curve(d3.curveMonotoneX)(stochS)).attr("fill", "none").attr("stroke", "#8c8c8c").attr("stroke-width", 3);
S.append("path").attr("d", lineS.curve(d3.curveMonotoneX)(stochD)).attr("fill", "none").attr("stroke", "#1f8a1f").attr("stroke-width", 2);
S.append("path").attr("d", d3.line().x(d => xi(d[0])).y(d => ySt(d[1]))(stochK)).attr("fill", "none").attr("stroke", "#000").attr("stroke-width", 1);
stochDiv.forEach(s => S.append("path").attr("d", d3.line().x(d => xi(d[0])).y(d => ySt(d[1]))(s)).attr("stroke", "#1a1ad0").attr("stroke-width", 2));

// ---- oscillator panel
const O = svg.append("g").attr("clip-path", "url(#co)");
for (let k = 0; k < oscHist.length - 1; k++) {
  const a = oscHist[k], b = oscHist[k + 1];
  const grow = Math.abs(b[1]) >= Math.abs(a[1]);
  const pts = [[xi(a[0]), yOsc(0)], [xi(a[0]), yOsc(a[1])], [xi(b[0]), yOsc(b[1])], [xi(b[0]), yOsc(0)]];
  O.append("path").attr("d", "M" + pts.join("L") + "Z").attr("fill", grow ? "url(#hg)" : "url(#hk)");
}
O.append("line").attr("x1", L).attr("x2", AX).attr("y1", yOsc(0)).attr("y2", yOsc(0)).attr("stroke", "#000");
const lineO = d3.line().x(d => xi(d[0])).y(d => yOsc(d[1])).curve(d3.curveMonotoneX);
O.append("path").attr("d", lineO(oscSignal)).attr("fill", "none").attr("stroke", "#8c8c8c").attr("stroke-width", 3.5);
oscGreen.forEach(s => O.append("path").attr("d", lineO(s)).attr("fill", "none").attr("stroke", "#22e422").attr("stroke-width", 3));
oscLabels.forEach(([t, i, v, c]) => O.append("text").attr("x", xi(i)).attr("y", yOsc(v)).attr("text-anchor", "middle").attr("dominant-baseline", "central")
  .attr("font-size", 13).attr("font-weight", c === "b" ? "normal" : "bold").attr("fill", c === "b" ? "#2424b8" : "#8a8a8a").text(t));

// ---- buy/sell pressure panel
const P = svg.append("g").attr("clip-path", "url(#cb)");
const lineB = d3.line().x((d, k) => xi(bspStart + k)).y(d => yBsp(d));
P.append("path").attr("d", lineB(bspBuy)).attr("fill", "none").attr("stroke", "#1e8a1e").attr("stroke-width", 1);
P.append("path").attr("d", lineB(bspSell)).attr("fill", "none").attr("stroke", "#e01818").attr("stroke-width", 1);
svg.append("text").attr("x", 4).attr("y", 889).attr("font-size", 13).attr("fill", "#222").text("© 2015 NinjaTrader, LLC");
svg.append("text").attr("x", 4).attr("y", 886).attr("font-size", 14).attr("fill", "#222").text("BuySellPressure(ES 03-15 (2 Min))");

// ---- frames
const F = svg.append("g").attr("stroke", "#000").attr("stroke-width", 1);
[TOP - 1, 694, 739, 801, 864, 870, 893].forEach(v => F.append("line").attr("x1", v === TOP - 1 ? 0 : L).attr("x2", v === TOP - 1 ? 995 : AX).attr("y1", v + 0.5).attr("y2", v + 0.5));
F.append("line").attr("x1", L + 0.5).attr("x2", L + 0.5).attr("y1", TOP).attr("y2", 893).attr("stroke", "#bbb");
F.append("line").attr("x1", AX + 0.5).attr("x2", AX + 0.5).attr("y1", TOP).attr("y2", 893);
svg.append("line").attr("x1", 8.5).attr("x2", 8.5).attr("y1", 695).attr("y2", 870).attr("stroke", "#ccc");

// axes
const ya = svg.append("g").attr("transform", `translate(${AX},0)`).call(d3.axisRight(y).tickValues(priceTicks).tickFormat(d3.format(".2f")).tickSize(5));
ya.select(".domain").remove();
ya.selectAll("text").attr("font-size", 12).attr("font-family", "Liberation Sans, Arial").attr("fill", "#000");
const sa = svg.append("g").attr("transform", `translate(${AX},0)`).call(d3.axisRight(ySt).tickValues([0]).tickFormat(d3.format("d")).tickSize(5));
sa.select(".domain").remove();
sa.selectAll("text").attr("font-size", 12).attr("font-family", "Liberation Sans, Arial");
const xa = svg.append("g").attr("transform", "translate(0,893)").call(d3.axisBottom(x).tickValues(timeTicks.map(parse)).tickFormat(d3.timeFormat("%H:%M")).tickSize(5));
xa.select(".domain").remove();
xa.selectAll("text").attr("font-size", 12).attr("font-family", "Liberation Sans, Arial").attr("fill", "#000").attr("dy", "1.05em");

// value tags
function tag(yc, txt, bg, fg) {
  const w = txt.length * 7.3 + 12;
  svg.append("path").attr("d", `M${AX + 1},${yc}L${AX + 9},${yc - 8}H${AX + 1 + w}V${yc + 8}H${AX + 9}Z`).attr("fill", bg).attr("stroke", "#333").attr("stroke-width", 0.5);
  svg.append("text").attr("x", AX + 9).attr("y", yc).attr("dominant-baseline", "central").attr("font-size", 13).attr("fill", fg).text(txt);
}
const tagCol = {g:["#2ed42e","#000"], k:["#000","#fff"], b:["#b5862c","#000"], l:["#3b8fe4","#fff"]};
priceTags.forEach(([t, v, c]) => tag(y(v) + (c === "g" ? -2 : c === "k" ? -1 : 0), t, tagCol[c][0], tagCol[c][1]));
tag(yVol(4729), "4729", "#1414c8", "#fff");
tag(yOsc(0.8), "-0.697", "#8c8c8c", "#000");
tag(yOsc(-0.84), "-0.838", "#1e7a1e", "#fff");
tag(ySt(41.67), "41.67", "#000", "#fff");
tag(yBsp(29.68) + 3, "29.68", "#1e7a1e", "#fff");
tag(yBsp(70.32) - 5, "70.32", "#e01818", "#fff");
tag(ySt(19.02) + 1, "19.02", "#1e7a1e", "#fff");
</script>
</body></html>
